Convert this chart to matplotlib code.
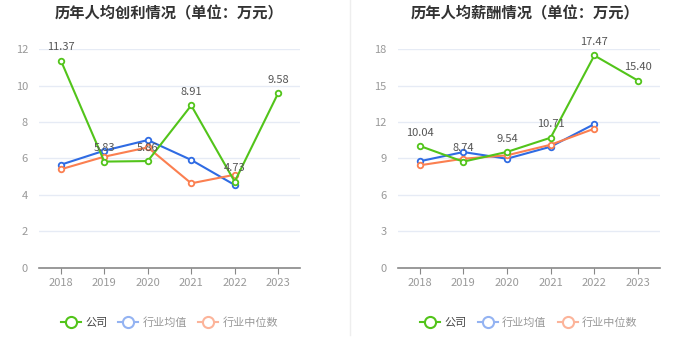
import matplotlib.pyplot as plt
from matplotlib.lines import Line2D

plt.rcParams['font.family'] = ['Noto Sans CJK SC', 'DejaVu Sans']

years = ["2018", "2019", "2020", "2021", "2022", "2023"]

# 人均创利
profit_company = [11.37, 5.83, 5.86, 8.91, 4.73, 9.58]
profit_mean = [5.66, 6.43, 7.01, 5.92, 4.55]
profit_median = [5.41, 6.10, 6.61, 4.64, 5.11]

# 人均薪酬
salary_company = [10.04, 8.74, 9.54, 10.71, 17.47, 15.40]
salary_mean = [8.77, 9.53, 8.98, 9.97, 11.83]
salary_median = [8.44, 8.98, 9.26, 10.13, 11.45]

green = "#52c41a"
blue = "#2f6be3"
orange = "#fb7f50"

fig = plt.figure(figsize=(6.99, 3.59), dpi=100)


def draw(ax, title, company, mean, median, ymax, step, tx):
    x = list(range(len(years)))
    for vals, c in [(mean, blue), (median, orange), (company, green)]:
        ax.plot(x[:len(vals)], vals, color=c, lw=1.5, marker="o", ms=4,
                mfc="white", mew=1.3, zorder=3)
    for i, v in enumerate(company):
        ax.annotate(f"{v:.2f}", (i, v), xytext=(0, 6), textcoords="offset points",
                    ha="center", va="bottom", fontsize=8, color="#555555", zorder=4)
    ax.set_xlim(-0.5, 5.5)
    ax.set_ylim(0, ymax)
    ax.set_yticks(range(0, ymax + 1, step))
    ax.set_xticks(x)
    ax.set_xticklabels(years)
    ax.grid(axis="y", color="#e6ebf5", lw=1)
    ax.set_axisbelow(True)
    for s in ["top", "right", "left"]:
        ax.spines[s].set_visible(False)
    ax.spines["bottom"].set_color("#888888")
    ax.spines["bottom"].set_linewidth(1.2)
    ax.tick_params(axis="y", length=0, labelsize=8, labelcolor="#999999", pad=8)
    ax.tick_params(axis="x", length=4, color="#888888", labelsize=8,
                   labelcolor="#999999")
    ax.set_title(title, fontsize=11, fontweight="bold", color="#333333",
                 y=1.0, pad=22, x=tx)
    handles = [
        Line2D([], [], color=green, lw=1.5, marker="o", ms=8, mfc="white", mew=1.5),
        Line2D([], [], color="#94b3f2", lw=1.5, marker="o", ms=8, mfc="white", mew=1.5),
        Line2D([], [], color="#fcb49a", lw=1.5, marker="o", ms=8, mfc="white", mew=1.5),
    ]
    leg = ax.legend(handles, ["公司", "行业均值", "行业中位数"], loc="upper center",
                    bbox_to_anchor=(0.5, -0.18), ncol=3, frameon=False, fontsize=8,
                    handlelength=1.8, columnspacing=1.0, handletextpad=0.4)
    cols = ["#444444", "#999999", "#999999"]
    for t, c in zip(leg.get_texts(), cols):
        t.set_color(c)


ax1 = fig.add_axes([0.056, 0.2535, 0.373, 0.61])
draw(ax1, "历年人均创利情况（单位：万元）", profit_company, profit_mean, profit_median, 12, 2, 0.5)

ax2 = fig.add_axes([0.569, 0.2535, 0.375, 0.61])
draw(ax2, "历年人均薪酬情况（单位：万元）", salary_company, salary_mean, salary_median, 18, 3, 0.485)

fig.add_artist(Line2D([0.5007, 0.5007], [0.067, 1.0], color="#eeeeee", lw=1))

fig.savefig("out.png", dpi=100)
